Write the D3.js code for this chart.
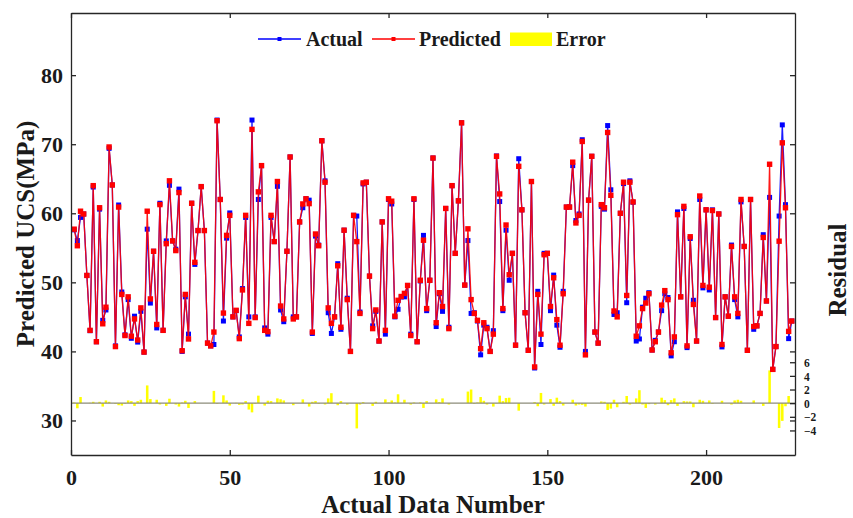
<!DOCTYPE html>
<html><head><meta charset="utf-8">
<script src="https://cdn.jsdelivr.net/npm/d3@7"></script>
<style>body{margin:0;background:#fff;} svg{display:block;}</style>
</head><body>
<svg id="chart" width="853" height="518"></svg>
<script>
const actual = [57.6,56.05,59.4,59.9,51.0,43.0,63.8,41.4,60.6,44.5,
46.0,69.4,64.1,40.8,61.2,48.6,42.4,47.5,41.9,45.1,
41.35,45.8,39.9,57.7,47.0,54.5,43.4,61.45,43.05,56.0,
64.05,56.0,54.8,63.5,40.0,47.9,42.5,61.45,52.6,57.5,
63.86,57.5,41.2,40.8,41.0,73.5,62.0,44.4,56.4,60.05,
45.0,45.9,42.1,49.1,59.4,45.0,73.5,45.0,62.0,66.9,
43.4,42.5,59.4,55.9,63.9,46.0,44.3,54.5,68.15,45.0,
45.0,58.75,60.8,62.1,61.9,42.6,56.7,55.4,70.5,64.7,
45.6,42.6,45.0,52.7,43.2,57.55,47.7,40.0,59.7,59.6,
45.7,64.25,64.5,50.9,43.7,45.8,41.5,58.75,42.5,62.0,
61.35,45.0,46.1,47.9,47.9,49.55,42.5,62.0,41.4,50.2,
56.8,45.9,50.3,68.0,43.6,48.35,45.8,60.7,43.5,64.0,
54.2,61.8,73.1,49.6,56.05,45.5,45.6,44.4,39.5,43.8,
43.5,40.0,43.0,68.3,61.7,45.9,57.55,50.3,54.2,40.9,
67.9,60.5,45.6,40.16,64.6,37.6,48.7,41.0,54.2,54.2,
45.9,51.05,43.8,40.6,48.7,60.9,60.9,66.9,58.95,59.9,
70.65,40.0,61.9,68.25,42.8,41.2,61.0,60.6,72.7,63.4,
45.35,45.6,60.0,64.3,47.05,64.7,61.6,41.5,41.8,46.4,
47.7,48.5,40.2,41.6,42.8,45.9,48.35,47.8,39.35,41.4,
60.2,47.9,60.7,40.55,56.35,47.4,41.5,62.0,49.2,60.5,
48.9,60.5,44.9,59.9,40.65,47.9,45.1,55.4,47.5,45.0,
61.65,55.2,40.16,62.0,43.2,43.7,45.5,56.9,47.3,62.3,
37.4,40.7,59.6,72.8,61.25,41.85,44.4];

const predicted = [57.7,55.3,60.3,59.9,51.0,43.05,64.0,41.4,60.8,44.0,
46.4,69.6,64.1,40.7,60.9,48.25,42.3,47.9,42.2,44.7,
41.65,46.3,39.9,60.3,47.6,54.5,43.9,61.26,43.05,55.6,
64.7,56.0,54.6,63.0,40.1,48.25,41.8,61.45,52.9,57.5,
63.86,57.5,41.2,40.8,42.8,73.4,62.0,45.55,56.8,59.7,
45.0,45.95,41.85,48.9,59.7,44.06,72.15,44.9,63.1,66.9,
43.05,42.86,59.7,55.9,64.6,46.57,44.7,54.5,68.15,44.7,
45.0,58.75,61.35,62.1,61.4,42.8,57.0,55.3,70.5,64.5,
46.3,44.06,45.0,52.4,43.5,57.55,47.5,40.0,59.7,55.9,
45.5,64.4,64.5,50.9,43.3,46.0,41.5,58.75,43.05,62.1,
61.75,45.1,47.4,47.95,48.4,49.55,42.3,62.1,41.4,50.3,
56.1,46.2,50.3,68.0,44.15,48.5,46.5,60.7,43.3,64.0,
54.2,61.8,73.1,49.6,57.75,47.5,45.5,44.5,40.4,44.15,
43.3,40.0,42.5,68.25,62.8,46.2,58.3,51.1,54.2,40.9,
66.8,60.5,45.6,40.16,64.6,37.75,48.25,42.5,54.0,54.2,
46.5,50.66,44.6,40.9,48.35,60.9,60.9,67.4,58.6,59.7,
70.4,39.5,61.9,68.25,42.8,41.2,61.25,60.8,71.7,62.6,
45.85,45.0,60.0,64.5,48.1,64.5,61.65,42.2,43.7,46.2,
47.0,48.35,40.2,41.4,42.8,46.7,48.8,47.5,39.8,42.1,
59.8,47.9,61.0,40.8,56.6,46.8,41.5,62.5,49.55,60.5,
49.3,60.4,44.9,59.9,41.0,47.9,45.1,55.2,47.9,45.5,
62.0,55.2,40.16,62.0,43.6,43.7,45.5,56.5,47.3,67.1,
37.4,40.7,55.96,70.2,60.8,42.9,44.4];

const errorVals = [0.1,-0.75,0.9,0,0,0.05,0.2,0,0.2,-0.5,
0.4,0.2,0,-0.1,-0.3,-0.35,-0.1,0.4,0.3,-0.4,
0.3,0.5,0,2.6,0.6,0,0.5,-0.19,0,-0.4,
0.65,0,-0.2,-0.5,0.1,0.35,-0.7,0,0.3,0,
0,0,0,0,1.8,-0.1,0,1.15,0.4,-0.35,
0,0.05,-0.25,-0.2,0.3,-0.94,-1.35,-0.1,1.1,0,
-0.35,0.36,0.3,0,0.7,0.57,0.4,0,0,-0.3,
0,0,0.55,0,-0.5,0.2,0.3,-0.1,0,-0.2,
0.7,1.46,0,-0.3,0.3,0,-0.2,0,0,-3.7,
-0.2,0.15,0,0,-0.4,0.2,0,0,0.55,0.1,
0.4,0.1,1.3,0.05,0.5,0,-0.2,0.1,0,0.1,
-0.7,0.3,0,0,0.55,0.15,0.7,0,-0.2,0,
0,0,0,0,1.7,2.0,-0.1,0.1,0.9,0.35,
-0.2,0,-0.5,-0.05,1.1,0.3,0.75,0.8,0,0,
-1.1,0,0,0,0,0.15,-0.45,1.5,-0.2,0,
0.6,-0.39,0.8,0.3,-0.35,0,0,0.5,-0.35,-0.2,
-0.25,-0.5,0,0,0,0,0.25,0.2,-1.0,-0.8,
0.5,-0.6,0,0.2,1.05,-0.2,0.05,0.7,1.9,-0.2,
-0.7,-0.15,0,-0.2,0,0.8,0.45,-0.3,0.45,0.7,
-0.4,0,0.3,0.25,0.25,-0.6,0,0.5,0.35,0,
0.4,-0.1,0,0,0.35,0,0,-0.2,0.4,0.5,
0.35,0,0,0,0.4,0,0,-0.4,0,4.8,
0,0,-3.64,-2.6,-0.45,1.05,0];

const xTicks = [0,50,100,150,200];
const yTicks = [30,40,50,60,70,80];
const residualTicks = [-4,-2,0,2,4,6];
const seriesNames = ["Actual","Predicted","Error"];
const xLabel = "Actual Data Number";
const yLabel = "Predicted UCS(MPa)";
const y2Label = "Residual";

const m = {l:71, r:795, t:13, b:455};
const svg = d3.select("#chart");
const font = "'Liberation Serif','Times New Roman',serif";
const x = d3.scaleLinear().domain([0,228]).range([m.l,m.r]);
const y = d3.scaleLinear().domain([25,89]).range([m.b,m.t]);
const yr = d3.scaleLinear().domain([-7.6,57.2]).range([m.b,m.t]);

// error bars
const bw = (x(1)-x(0))*0.8;
svg.append("g").selectAll("rect").data(errorVals).join("rect")
  .attr("x",(d,i)=>x(i+1)-bw/2).attr("width",bw)
  .attr("y",d=>Math.min(yr(d),yr(0))).attr("height",d=>Math.abs(yr(d)-yr(0)))
  .attr("fill","#ffff00");
svg.append("line").attr("x1",m.l).attr("x2",m.r).attr("y1",yr(0)).attr("y2",yr(0))
  .attr("stroke","#8c8c7a").attr("stroke-width",1.2);

// series
const line = d3.line().x((d,i)=>x(i+1)).y(d=>y(d));
function drawSeries(data,color,ms){
  svg.append("path").datum(data).attr("d",line).attr("fill","none")
    .attr("stroke",color).attr("stroke-width",1.3).attr("stroke-opacity",0.9);
  svg.append("g").selectAll("rect").data(data).join("rect")
    .attr("x",(d,i)=>x(i+1)-ms/2).attr("y",d=>y(d)-ms/2)
    .attr("width",ms).attr("height",ms).attr("fill",color);
}
drawSeries(actual,"#0000ff",5);
drawSeries(predicted,"#ff0000",5.4);

// axes
const axColor = "#262626";
function styleAxis(g, size){
  g.selectAll("path,line").attr("stroke",axColor).attr("stroke-width",1.3);
  g.selectAll("text").attr("font-family",font).attr("font-weight","bold")
    .attr("font-size",size||22).attr("fill","#1a1a1a");
}
svg.append("g").attr("transform",`translate(${m.l},0)`)
  .call(d3.axisLeft(y).tickValues(yTicks).tickSize(-5).tickSizeOuter(0).tickPadding(8))
  .call(styleAxis);
svg.append("g").attr("transform",`translate(0,${m.b})`)
  .call(d3.axisBottom(x).tickValues(xTicks).tickSize(-5).tickSizeOuter(0).tickPadding(14))
  .call(styleAxis);
// mirrored ticks
svg.append("g").attr("transform",`translate(0,${m.t})`)
  .call(d3.axisTop(x).tickValues(xTicks).tickSize(-5).tickSizeOuter(0).tickFormat(""))
  .call(styleAxis);
svg.append("g").attr("transform",`translate(${m.r},0)`)
  .call(d3.axisRight(y).tickValues(yTicks).tickSize(-5).tickSizeOuter(0).tickFormat(""))
  .call(styleAxis);
// residual axis
const ra = svg.append("g").attr("transform",`translate(${m.r},0)`)
  .call(d3.axisRight(yr).tickValues(residualTicks).tickSize(-5).tickSizeOuter(0).tickPadding(9))
  .call(g=>styleAxis(g,11.5));
ra.select(".domain").remove();
ra.selectAll("text").attr("dy","0.36em");

// axis labels
svg.append("text").attr("x",(m.l+m.r)/2).attr("y",513).attr("text-anchor","middle")
  .attr("font-family",font).attr("font-weight","bold").attr("font-size",25)
  .attr("fill","#1a1a1a").text(xLabel);
svg.append("text").attr("transform",`translate(34,${(m.t+m.b)/2}) rotate(-90)`)
  .attr("text-anchor","middle")
  .attr("font-family",font).attr("font-weight","bold").attr("font-size",25)
  .attr("fill","#1a1a1a").text(yLabel);
svg.append("text").attr("transform",`translate(846,270) rotate(-90)`)
  .attr("text-anchor","middle")
  .attr("font-family",font).attr("font-weight","bold").attr("font-size",25)
  .attr("fill","#1a1a1a").text(y2Label);

// legend
const lg = svg.append("g");
const legendItems = [
  {name:seriesNames[0], color:"#0000ff", type:"line", x0:258, tx:306},
  {name:seriesNames[1], color:"#ff0000", type:"line", x0:372, tx:419},
  {name:seriesNames[2], color:"#ffff00", type:"rect", x0:510, tx:556}
];
legendItems.forEach(it=>{
  if(it.type==="line"){
    lg.append("line").attr("x1",it.x0).attr("x2",it.x0+43).attr("y1",39).attr("y2",39)
      .attr("stroke",it.color).attr("stroke-width",1.3);
    lg.append("rect").attr("x",it.x0+21.5-2).attr("y",37).attr("width",4).attr("height",4).attr("fill",it.color);
  } else {
    lg.append("rect").attr("x",it.x0).attr("y",32.5).attr("width",42).attr("height",13.5).attr("fill",it.color);
  }
  lg.append("text").attr("x",it.tx).attr("y",46).attr("font-family",font).attr("font-weight","bold")
    .attr("font-size",20).attr("fill","#1a1a1a").text(it.name);
});
</script>
</body></html>
